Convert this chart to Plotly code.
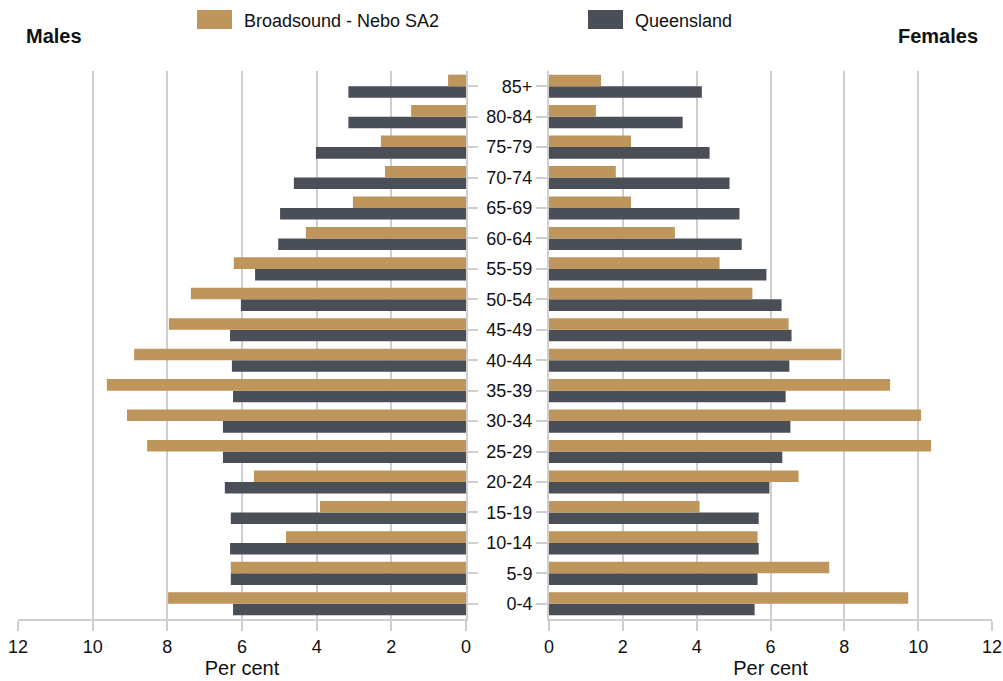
import plotly.graph_objects as go

age_groups = ["0-4", "5-9", "10-14", "15-19", "20-24", "25-29", "30-34", "35-39",
              "40-44", "45-49", "50-54", "55-59", "60-64", "65-69", "70-74",
              "75-79", "80-84", "85+"]

males_sa2 = [7.98, 6.30, 4.82, 3.91, 5.68, 8.54, 9.08, 9.62, 8.89, 7.96, 7.37,
             6.22, 4.29, 3.03, 2.17, 2.28, 1.47, 0.48]
males_qld = [6.24, 6.30, 6.32, 6.30, 6.46, 6.51, 6.51, 6.24, 6.27, 6.32, 6.03,
             5.65, 5.03, 4.98, 4.61, 4.02, 3.15, 3.15]
females_sa2 = [9.73, 7.59, 5.65, 4.08, 6.76, 10.35, 10.08, 9.24, 7.92, 6.49, 5.51,
               4.62, 3.41, 2.22, 1.81, 2.22, 1.27, 1.41]
females_qld = [5.57, 5.65, 5.68, 5.68, 5.97, 6.32, 6.54, 6.41, 6.51, 6.57, 6.30,
               5.89, 5.22, 5.16, 4.89, 4.35, 3.62, 4.14]

series_names = ["Broadsound - Nebo SA2", "Queensland"]
x_ticks = [0, 2, 4, 6, 8, 10, 12]

C_SA2 = "#BE955A"
C_QLD = "#4A4E56"
GRID = "#CFCFCF"
FONT = "Arial, Liberation Sans, sans-serif"

W, H = 1003, 681
MT, MB = 71, 62
PH = H - MT - MB


def px_x(p):
    return p / W


def px_y(p):
    return (H - MB - p) / PH


fig = go.Figure()

# Queensland first so it sits below within each group
fig.add_trace(go.Bar(y=age_groups, x=males_qld, orientation="h", name=series_names[1],
                     marker=dict(color=C_QLD, line=dict(width=0)),
                     xaxis="x", yaxis="y", showlegend=False))
fig.add_trace(go.Bar(y=age_groups, x=males_sa2, orientation="h", name=series_names[0],
                     marker=dict(color=C_SA2, line=dict(width=0)),
                     xaxis="x", yaxis="y", showlegend=False))
fig.add_trace(go.Bar(y=age_groups, x=females_qld, orientation="h", name=series_names[1],
                     marker=dict(color=C_QLD, line=dict(width=0)),
                     xaxis="x2", yaxis="y2", showlegend=False))
fig.add_trace(go.Bar(y=age_groups, x=females_sa2, orientation="h", name=series_names[0],
                     marker=dict(color=C_SA2, line=dict(width=0)),
                     xaxis="x2", yaxis="y2", showlegend=False))

xaxis_common = dict(
    tickvals=x_ticks, ticktext=[str(v) for v in x_ticks],
    showgrid=True, gridcolor=GRID, gridwidth=2,
    showline=True, linecolor=GRID, linewidth=2,
    ticks="outside", ticklen=10, tickcolor=GRID, tickwidth=2,
    tickfont=dict(size=18, color="#111111", family=FONT),
    zeroline=False, fixedrange=True, automargin=False,
    title=dict(text="Per cent", font=dict(size=20, color="#111111", family=FONT), standoff=4),
)

yaxis_common = dict(
    type="category", categoryorder="array", categoryarray=age_groups,
    range=[-0.5, 17.5], tickcolor=GRID, tickwidth=2,
    showline=True, linecolor=GRID, linewidth=2, showgrid=False,
    zeroline=False, fixedrange=True, automargin=False,
)

fig.update_layout(
    template="none",
    width=W, height=H,
    margin=dict(l=0, r=0, t=MT, b=MB, pad=0, autoexpand=False),
    plot_bgcolor="white", paper_bgcolor="white",
    barmode="group", bargap=0.24, bargroupgap=0,
    font=dict(family=FONT, color="#111111"),
    xaxis=dict(domain=[px_x(18), px_x(466)], range=[12, 0], anchor="y", **xaxis_common),
    xaxis2=dict(domain=[px_x(549), px_x(992)], range=[0, 12], anchor="y2", **xaxis_common),
    yaxis=dict(anchor="x", side="right", showticklabels=False, ticks="outside", ticklen=10,
               **yaxis_common),
    yaxis2=dict(anchor="x2", side="left", showticklabels=True, ticks="outside", ticklen=11,
                tickfont=dict(size=18, color="#111111", family=FONT), **yaxis_common),
    showlegend=False,
)

# Custom legend (wide swatches as in the reference)
legend_items = [(series_names[0], C_SA2, 197), (series_names[1], C_QLD, 588)]
for name, color, x0 in legend_items:
    fig.add_shape(type="rect", xref="paper", yref="paper",
                  x0=px_x(x0), x1=px_x(x0 + 35), y0=px_y(29), y1=px_y(10),
                  fillcolor=color, line=dict(width=0))
    fig.add_annotation(text=name, xref="paper", yref="paper",
                       x=px_x(x0 + 45), y=px_y(21), xanchor="left", yanchor="middle",
                       showarrow=False, font=dict(size=18, color="#111111", family=FONT))

fig.add_annotation(text="<b>Males</b>", xref="paper", yref="paper",
                   x=px_x(24), y=px_y(36), xanchor="left", yanchor="middle",
                   showarrow=False, font=dict(size=20, color="#111111", family=FONT))
fig.add_annotation(text="<b>Females</b>", xref="paper", yref="paper",
                   x=px_x(980), y=px_y(36), xanchor="right", yanchor="middle",
                   showarrow=False, font=dict(size=20, color="#111111", family=FONT))

fig.write_html("out.html",
               config={"displayModeBar": False},
               post_script="document.body.style.margin='0';document.body.style.overflow='hidden';")
